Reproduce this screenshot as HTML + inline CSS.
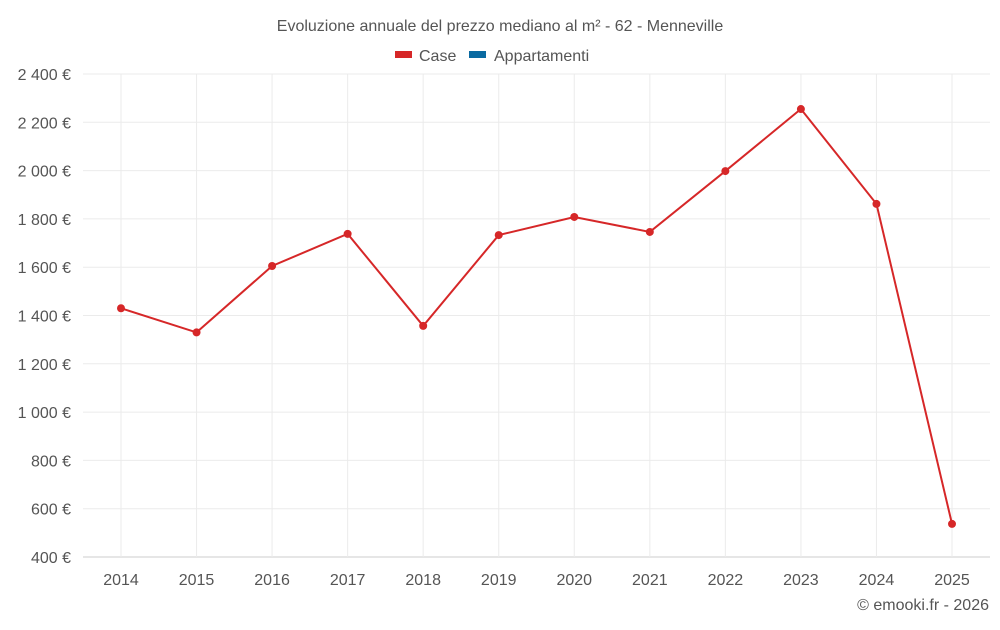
<!DOCTYPE html>
<html><head><meta charset="utf-8"><style>
body{margin:0;background:#fff;font-family:"Liberation Sans",sans-serif}
svg text{font-family:"Liberation Sans",sans-serif}
</style></head><body>
<svg id="c" width="1000" height="625">
<text x="500" y="31" text-anchor="middle" font-size="16" fill="#555">Evoluzione annuale del prezzo mediano al m² - 62 - Menneville</text>
<g>
<g><rect x="395" y="51" width="17" height="7" fill="#d62728"/><text x="419" y="61" font-size="16" fill="#555">Case</text></g>
<g><rect x="469" y="51" width="17" height="7" fill="#0a6aa1"/><text x="494" y="61" font-size="16" fill="#555">Appartamenti</text></g>
</g>
<g id="grid"></g><g id="axes"></g><g id="series"></g>
<text x="989" y="610" text-anchor="end" font-size="16" fill="#555">© emooki.fr - 2026</text>
</svg>
<script>
const years=[2014,2015,2016,2017,2018,2019,2020,2021,2022,2023,2024,2025];
const caseValues=[1430,1330,1605,1738,1357,1733,1808,1746,1998,2255,1862,537];
const yTicks=[400,600,800,1000,1200,1400,1600,1800,2000,2200,2400];
const NS="http://www.w3.org/2000/svg";
const L=83,R=990,T=74,B=557,ymin=400,ymax=2400;
const x=i=>121+i*(952-121)/(years.length-1);
const y=v=>B-(v-ymin)/(ymax-ymin)*(B-T);
function mk(t,a,p){const e=document.createElementNS(NS,t);for(const k in a)e.setAttribute(k,a[k]);p.appendChild(e);return e;}
const g=document.getElementById('grid'),ax=document.getElementById('axes'),s=document.getElementById('series');
yTicks.forEach(v=>{
 const l=mk('line',{x1:L,x2:R,y1:y(v),y2:y(v),stroke:v===ymin?'#ccc':'#ebebeb'},g);
 
 
 const t=mk('text',{x:71,y:y(v)+6,'text-anchor':'end','font-size':16,fill:'#555'},ax);
 t.textContent=String(v).replace(/\B(?=(\d{3})+(?!\d))/g,' ')+' €';
 
 
});
years.forEach((yr,i)=>{
 const l=mk('line',{x1:x(i),x2:x(i),y1:T,y2:B,stroke:'#ebebeb'},g);
 
 
 const t=mk('text',{x:x(i),y:585,'text-anchor':'middle','font-size':16,fill:'#555'},ax);
 t.textContent=yr;
 
 
});
const p=mk('polyline',{points:caseValues.map((v,i)=>x(i)+','+y(v)).join(' '),fill:'none',stroke:'#d62728','stroke-width':2},s);


caseValues.forEach((v,i)=>{
 const c=mk('circle',{cx:x(i),cy:y(v),r:4,fill:'#d62728'},s);
 
 
});
</script>
</body></html>
